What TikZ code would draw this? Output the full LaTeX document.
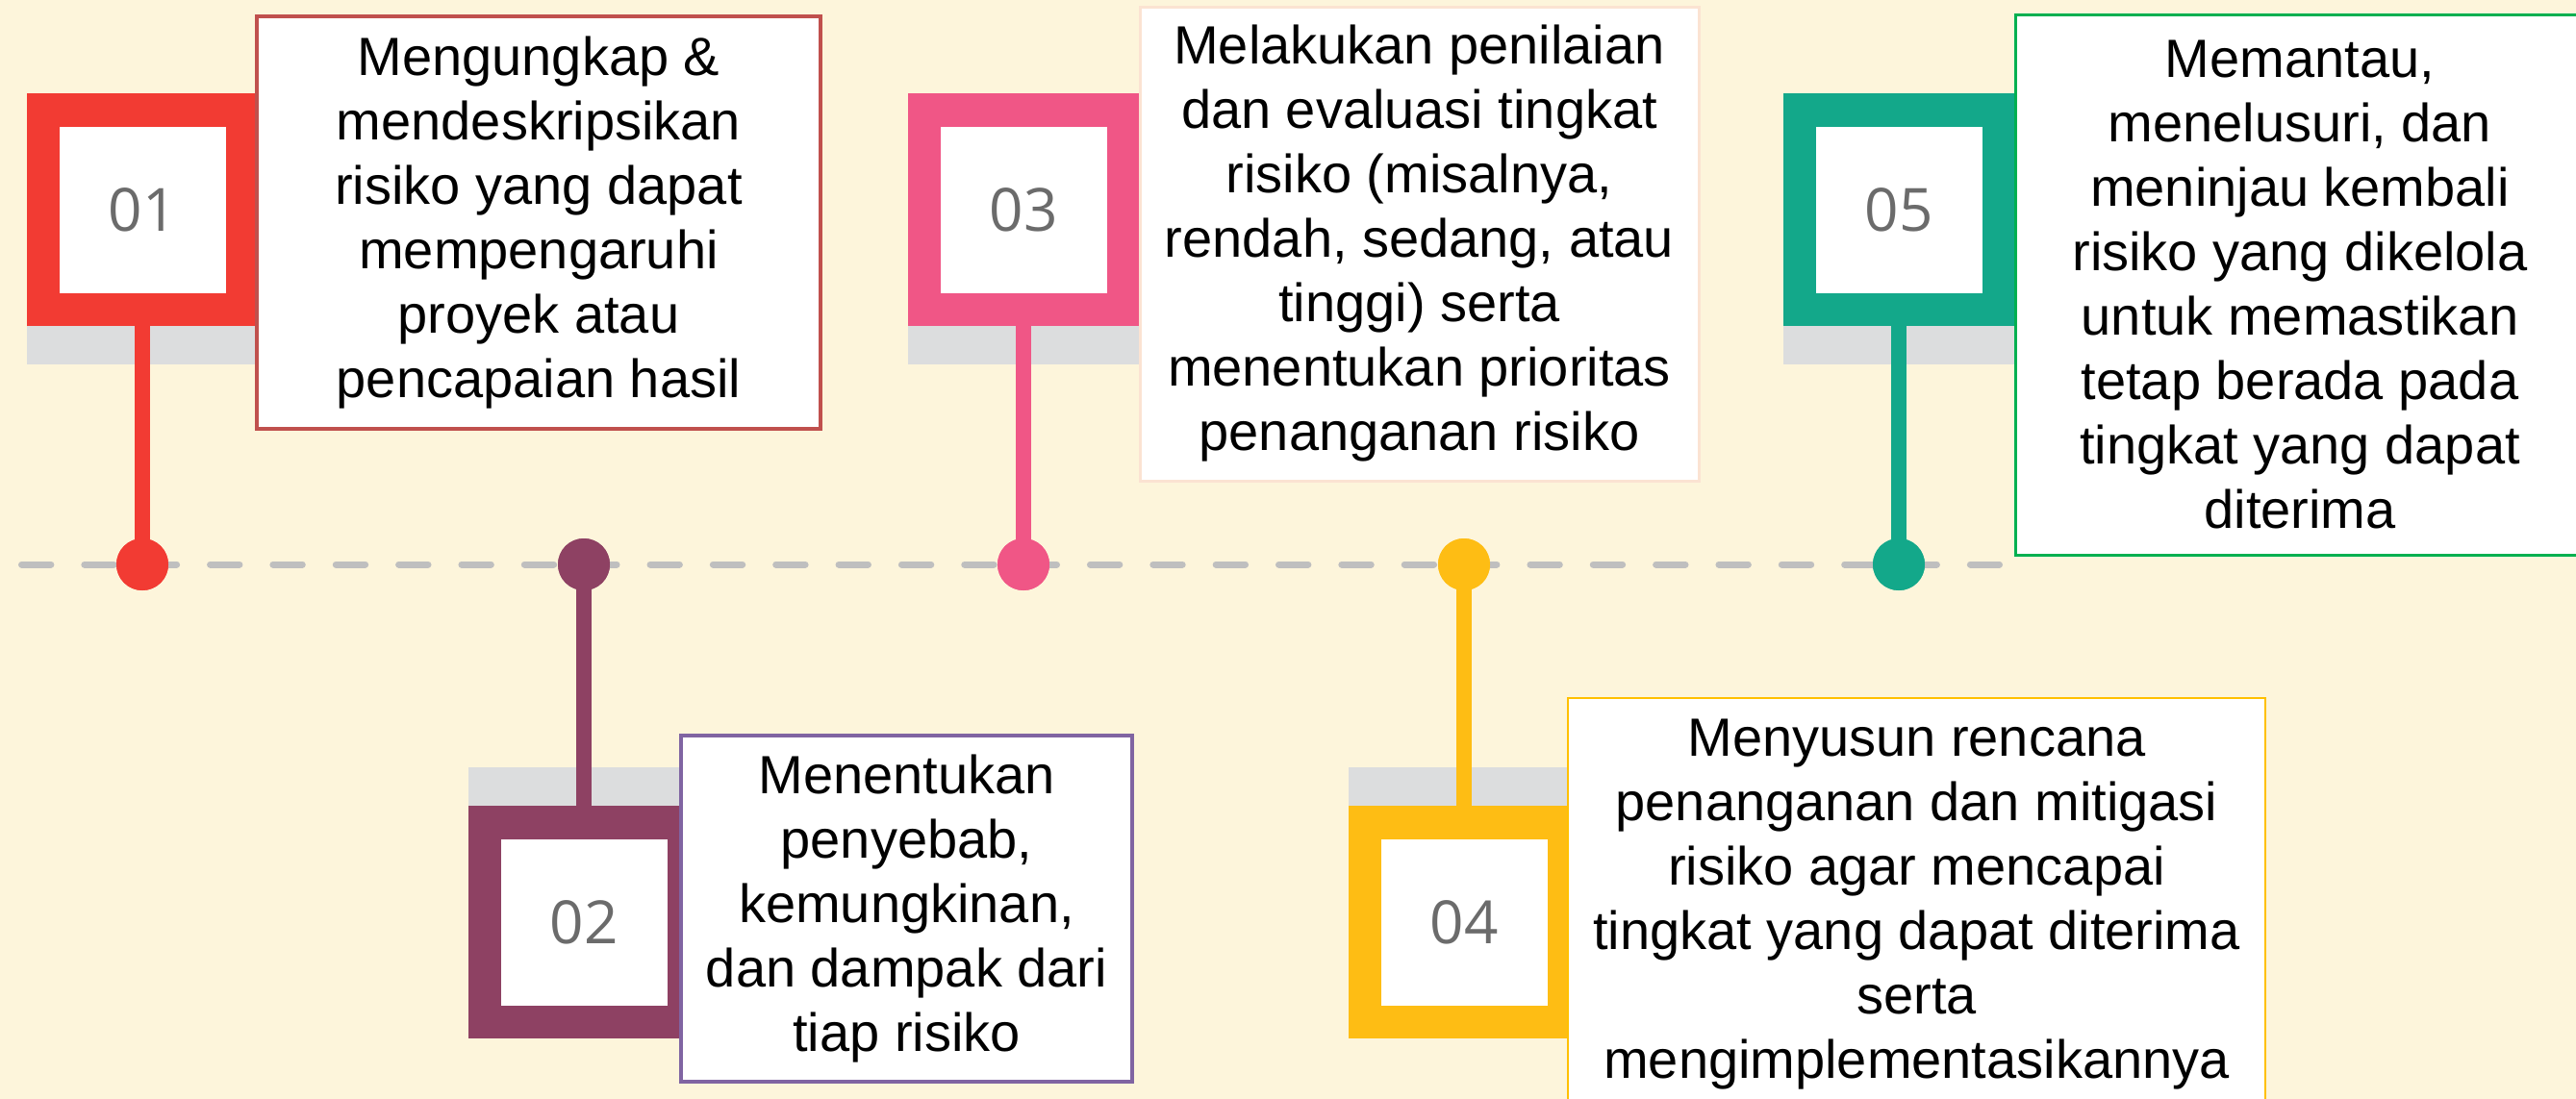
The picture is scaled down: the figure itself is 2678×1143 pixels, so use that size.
\documentclass[tikz,border=0pt]{standalone}
\usepackage{fontspec}
\setmainfont{Liberation Sans}
\newfontfamily\numfont{Open Sans}
\definecolor{bg}{HTML}{FDF5DB}
\definecolor{cred}{HTML}{F23B33}
\definecolor{cpurple}{HTML}{8E4163}
\definecolor{cpink}{HTML}{F05686}
\definecolor{cyellow}{HTML}{FEBD14}
\definecolor{cgreen}{HTML}{13A88A}
\definecolor{band}{HTML}{DCDDDE}
\definecolor{dashgray}{HTML}{BFBFBF}
\definecolor{numgray}{HTML}{6B6B6B}
\definecolor{b1}{HTML}{C0504D}
\definecolor{b2}{HTML}{8064A2}
\definecolor{b3}{HTML}{FBE3D2}
\definecolor{b4}{HTML}{FFC000}
\definecolor{b5}{HTML}{00B050}
\tikzset{
  cbox/.style={draw=none, minimum width=241pt, minimum height=242pt, inner sep=0pt},
  numbox/.style={fill=white, minimum width=173pt, minimum height=173pt, inner sep=0pt,
     font=\numfont\fontsize{62}{70}\selectfont, text=numgray},
  bandbox/.style={fill=band, minimum width=241pt, minimum height=40pt, inner sep=0pt},
  dotnode/.style={circle, minimum size=54pt, inner sep=0pt},
  stemline/.style={line width=16pt},
  dashline/.style={draw=dashgray, line width=7pt, line cap=round, dash pattern=on 30.4pt off 34.95pt},
  txtbox/.style={fill=white, inner sep=0pt, align=center, text=black,
     font=\fontsize{56}{67}\selectfont}
}
\begin{document}
\begin{tikzpicture}[x=1pt,y=-1pt]
\useasboundingbox (0,0) rectangle (2678,1143);
\fill[bg] (0,0) rectangle (2678,1143);

% timeline
\coordinate (lineL) at (22.5,587);
\coordinate (lineR) at (2078.5,587);
\draw[dashline] (lineL) -- (lineR);

% gray bands
\node[bandbox] (g1) at (148,359) {};
\node[bandbox] (g2) at (607,818) {};
\node[bandbox] (g3) at (1064,359) {};
\node[bandbox] (g4) at (1522,818) {};
\node[bandbox] (g5) at (1974,359) {};

% dots
\node[dotnode, fill=cred] (d1) at (148,587) {};
\node[dotnode, fill=cpurple] (d2) at (607,587) {};
\node[dotnode, fill=cpink] (d3) at (1064,587) {};
\node[dotnode, fill=cyellow] (d4) at (1522,587) {};
\node[dotnode, fill=cgreen] (d5) at (1974,587) {};

% colored boxes
\node[cbox, fill=cred] (c1) at (148,218) {};
\node[cbox, fill=cpurple] (c2) at (607,959) {};
\node[cbox, fill=cpink] (c3) at (1064,218) {};
\node[cbox, fill=cyellow] (c4) at (1522,959) {};
\node[cbox, fill=cgreen] (c5) at (1974,218) {};

% stems
\draw[stemline, cred] (c1.south) -- (d1.center);
\draw[stemline, cpurple] (c2.north) -- (d2.center);
\draw[stemline, cpink] (c3.south) -- (d3.center);
\draw[stemline, cyellow] (c4.north) -- (d4.center);
\draw[stemline, cgreen] (c5.south) -- (d5.center);

% redraw dots on top of stems
\node[dotnode, fill=cred] at (d1) {};
\node[dotnode, fill=cpurple] at (d2) {};
\node[dotnode, fill=cpink] at (d3) {};
\node[dotnode, fill=cyellow] at (d4) {};
\node[dotnode, fill=cgreen] at (d5) {};

% number squares
\node[numbox] (n1) at (148,218) {01};
\node[numbox] (n2) at (607,959) {02};
\node[numbox] (n3) at (1064,218) {03};
\node[numbox] (n4) at (1522,959) {04};
\node[numbox] (n5) at (1974,218) {05};

% text boxes
\node[txtbox, draw=b1, line width=4pt, minimum width=586pt, minimum height=429pt] (t1) at (560,231.5)
  {Mengungkap \&\\ mendeskripsikan\\ risiko yang dapat\\ mempengaruhi\\ proyek atau\\ pencapaian hasil};
\node[txtbox, draw=b2, line width=4pt, minimum width=469pt, minimum height=360pt] (t2) at (942.5,945)
  {Menentukan\\ penyebab,\\ kemungkinan,\\ dan dampak dari\\ tiap risiko};
\node[txtbox, draw=b3, line width=3pt, minimum width=581pt, minimum height=493pt] (t3) at (1475.5,253.5)
  {Melakukan penilaian\\ dan evaluasi tingkat\\ risiko (misalnya,\\ rendah, sedang, atau\\ tinggi) serta\\ menentukan prioritas\\ penanganan risiko};
\node[txtbox, draw=b4, line width=2.5pt, minimum width=725pt, minimum height=429pt] (t4) at (1992.5,940.5)
  {Menyusun rencana\\ penanganan dan mitigasi\\ risiko agar mencapai\\ tingkat yang dapat diterima\\ serta\\ mengimplementasikannya};
\node[txtbox, draw=b5, line width=3pt, minimum width=592pt, minimum height=562pt] (t5) at (2391,296)
  {Memantau,\\ menelusuri, dan\\ meninjau kembali\\ risiko yang dikelola\\ untuk memastikan\\ tetap berada pada\\ tingkat yang dapat\\ diterima};
\end{tikzpicture}
\end{document}
